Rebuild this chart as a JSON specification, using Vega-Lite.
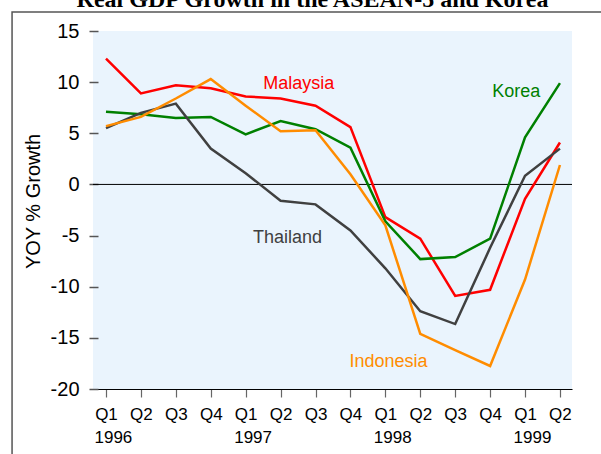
{
  "$schema": "https://vega.github.io/schema/vega-lite/v6.json",
  "autosize": "none",
  "width": 479,
  "height": 358,
  "padding": {"left": 93, "top": 31, "right": 29, "bottom": 65},
  "background": "white",
  "title": {
    "text": "Real GDP Growth in the ASEAN-5 and Korea",
    "font": "Liberation Serif",
    "fontSize": 24,
    "fontWeight": "bold",
    "color": "black",
    "anchor": "middle",
    "frame": "group",
    "baseline": "alphabetic",
    "offset": 4,
    "dx": -20,
    "dy": 23.5
  },
  "datasets": {
    "gdp": [
      {"q": 0, "country": "Malaysia", "g": 12.3}, {"q": 1, "country": "Malaysia", "g": 8.9}, {"q": 2, "country": "Malaysia", "g": 9.7}, {"q": 3, "country": "Malaysia", "g": 9.4}, {"q": 4, "country": "Malaysia", "g": 8.6}, {"q": 5, "country": "Malaysia", "g": 8.4}, {"q": 6, "country": "Malaysia", "g": 7.7}, {"q": 7, "country": "Malaysia", "g": 5.6}, {"q": 8, "country": "Malaysia", "g": -3.2}, {"q": 9, "country": "Malaysia", "g": -5.3}, {"q": 10, "country": "Malaysia", "g": -10.9}, {"q": 11, "country": "Malaysia", "g": -10.3}, {"q": 12, "country": "Malaysia", "g": -1.4}, {"q": 13, "country": "Malaysia", "g": 4.1},
      {"q": 0, "country": "Korea", "g": 7.1}, {"q": 1, "country": "Korea", "g": 6.85}, {"q": 2, "country": "Korea", "g": 6.5}, {"q": 3, "country": "Korea", "g": 6.6}, {"q": 4, "country": "Korea", "g": 4.9}, {"q": 5, "country": "Korea", "g": 6.2}, {"q": 6, "country": "Korea", "g": 5.4}, {"q": 7, "country": "Korea", "g": 3.6}, {"q": 8, "country": "Korea", "g": -3.6}, {"q": 9, "country": "Korea", "g": -7.3}, {"q": 10, "country": "Korea", "g": -7.1}, {"q": 11, "country": "Korea", "g": -5.3}, {"q": 12, "country": "Korea", "g": 4.6}, {"q": 13, "country": "Korea", "g": 9.9},
      {"q": 0, "country": "Thailand", "g": 5.5}, {"q": 1, "country": "Thailand", "g": 7.0}, {"q": 2, "country": "Thailand", "g": 7.9}, {"q": 3, "country": "Thailand", "g": 3.5}, {"q": 4, "country": "Thailand", "g": 1.1}, {"q": 5, "country": "Thailand", "g": -1.6}, {"q": 6, "country": "Thailand", "g": -1.95}, {"q": 7, "country": "Thailand", "g": -4.5}, {"q": 8, "country": "Thailand", "g": -8.2}, {"q": 9, "country": "Thailand", "g": -12.4}, {"q": 10, "country": "Thailand", "g": -13.65}, {"q": 11, "country": "Thailand", "g": -6.2}, {"q": 12, "country": "Thailand", "g": 0.85}, {"q": 13, "country": "Thailand", "g": 3.5},
      {"q": 0, "country": "Indonesia", "g": 5.7}, {"q": 1, "country": "Indonesia", "g": 6.6}, {"q": 2, "country": "Indonesia", "g": 8.4}, {"q": 3, "country": "Indonesia", "g": 10.3}, {"q": 4, "country": "Indonesia", "g": 7.7}, {"q": 5, "country": "Indonesia", "g": 5.2}, {"q": 6, "country": "Indonesia", "g": 5.3}, {"q": 7, "country": "Indonesia", "g": 1.0}, {"q": 8, "country": "Indonesia", "g": -4.0}, {"q": 9, "country": "Indonesia", "g": -14.6}, {"q": 10, "country": "Indonesia", "g": -16.2}, {"q": 11, "country": "Indonesia", "g": -17.75}, {"q": 12, "country": "Indonesia", "g": -9.3}, {"q": 13, "country": "Indonesia", "g": 1.9}
    ],
    "labels": [
      {"country": "Malaysia", "q": 5.52, "g": 9.33},
      {"country": "Korea", "q": 11.75, "g": 8.57},
      {"country": "Thailand", "q": 5.2, "g": -5.7},
      {"country": "Indonesia", "q": 8.09, "g": -17.82}
    ]
  },
  "resolve": {"axis": {"x": "independent"}},
  "layer": [
    {
      "data": {"values": [{}]},
      "mark": {"type": "rect", "filled": false, "stroke": "#555555", "strokeWidth": 1.5, "clip": false},
      "encoding": {
        "x": {"datum": -2.69, "type": "quantitative", "axis": null},
        "x2": {"datum": 15},
        "y": {"datum": 16.85, "type": "quantitative"},
        "y2": {"datum": -30}
      }
    },
    {
      "data": {"values": [{}]},
      "mark": {"type": "rule", "color": "black", "strokeWidth": 1},
      "encoding": {"y": {"datum": 0, "type": "quantitative"}}
    },
    {
      "data": {"name": "gdp"},
      "mark": {"type": "line", "strokeWidth": 2.5},
      "encoding": {
        "x": {
          "field": "q", "type": "quantitative",
          "scale": {"domain": [-0.372, 13.345], "nice": false, "zero": false},
          "axis": {
            "orient": "bottom",
            "title": null,
            "values": [0, 1, 2, 3, 4, 5, 6, 7, 8, 9, 10, 11, 12, 13],
            "labelExpr": "'Q' + (datum.value % 4 + 1)",
            "labelAlign": "center",
            "labelBaseline": "top",
            "labelPadding": 9,
            "domainColor": "black",
            "domainWidth": 1,
            "tickColor": "#666666",
            "tickSize": 8,
            "tickWidth": 1.2
          }
        },
        "y": {
          "field": "g", "type": "quantitative",
          "scale": {"domain": [-20, 15], "nice": false, "zero": false},
          "axis": {
            "title": "YOY % Growth",
            "values": [-20, -17.5, -15, -12.5, -10, -7.5, -5, -2.5, 0, 2.5, 5, 7.5, 10, 12.5, 15],
            "labelExpr": "datum.value % 5 == 0 ? '' + datum.value : ''",
            "tickSize": {"condition": {"test": "datum.value % 5 == 0", "value": 9}, "value": 6}
          }
        },
        "color": {
          "field": "country", "type": "nominal",
          "scale": {"domain": ["Malaysia", "Korea", "Thailand", "Indonesia"], "range": ["#FF0000", "#008000", "#404040", "#FF8C00"]},
          "legend": null
        }
      }
    },
    {
      "data": {"name": "labels"},
      "mark": {"type": "text", "fontSize": 18, "align": "center", "baseline": "alphabetic"},
      "encoding": {
        "x": {
          "field": "q", "type": "quantitative",
          "axis": {
            "orient": "bottom",
            "title": null,
            "values": [0, 4, 8, 12],
            "labelExpr": "'' + (1996 + datum.value / 4)",
            "labelAlign": "left",
            "labelOffset": -12,
            "labelBaseline": "top",
            "labelPadding": 40,
            "ticks": false,
            "tickSize": 0,
            "domain": false
          }
        },
        "y": {"field": "g", "type": "quantitative"},
        "text": {"field": "country"},
        "color": {"field": "country", "type": "nominal", "legend": null}
      }
    }
  ],
  "config": {
    "font": "Liberation Sans",
    "view": {"fill": "#EAF4FD", "stroke": null},
    "axisX": {
      "labelFontSize": 17,
      "labelColor": "black",
      "labelOverlap": false,
      "labelFlush": false,
      "labelBound": false,
      "grid": false
    },
    "axisY": {
      "titleFontSize": 20,
      "titleFontWeight": "normal",
      "titleColor": "black",
      "titleX": -65,
      "titleY": 170,
      "titleAngle": -90,
      "titleAlign": "center",
      "titleBaseline": "middle",
      "labelFontSize": 20,
      "labelColor": "black",
      "labelPadding": 10,
      "labelOverlap": false,
      "labelFlush": false,
      "labelBound": false,
      "offset": -5,
      "domain": false,
      "grid": false,
      "tickColor": "#555555",
      "tickWidth": 1.5
    }
  }
}
